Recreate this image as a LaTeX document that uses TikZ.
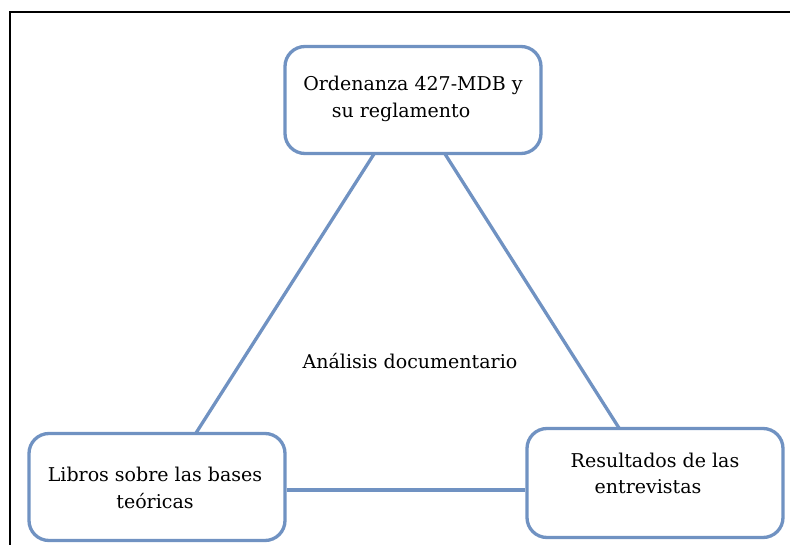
\documentclass[tikz,border=0pt]{standalone}
\usepackage{fontspec}
\setmainfont{DejaVu Serif}
\definecolor{boxblue}{RGB}{112,146,194}
\begin{document}
\begin{tikzpicture}[x=1pt,y=-1pt,
  box/.style={draw=boxblue,line width=3.3pt,rounded corners=20pt,fill=white},
  conn/.style={draw=boxblue,line width=3.3pt},
  lbl/.style={font=\fontsize{19}{22}\selectfont,inner sep=0pt}]
\useasboundingbox (0,0) rectangle (790,545);
\draw[line width=2pt] (10,545) -- (10,12) -- (790,12);
% boxes
\node[box,minimum width=256pt,minimum height=107pt] (top) at (413,100) {};
\node[box,minimum width=256pt,minimum height=107pt] (left) at (157,487) {};
\node[box,minimum width=256pt,minimum height=109pt] (right) at (655,483) {};
% connectors
\coordinate (t1) at (374,154);
\coordinate (t2) at (445,154);
\coordinate (b1) at (196,433);
\coordinate (b2) at (619,428);
\coordinate (h) at (0,490);
\draw[conn] (t1) -- (b1);
\draw[conn] (t2) -- (b2);
\draw[conn] (left.east |- h) -- (right.west |- h);
% texts
\node[lbl] (ta) at (413,85) {Ordenanza 427-MDB y};
\node[lbl] (tb) at (401,112) {su reglamento};
\node[lbl] (mid) at (410,361) {Análisis documentario};
\node[lbl] (la) at (155,474) {Libros sobre las bases};
\node[lbl] (lb) at (155,501) {teóricas};
\node[lbl] (ra) at (655,460) {Resultados de las};
\node[lbl] (rb) at (648,487) {entrevistas};
\end{tikzpicture}
\end{document}
